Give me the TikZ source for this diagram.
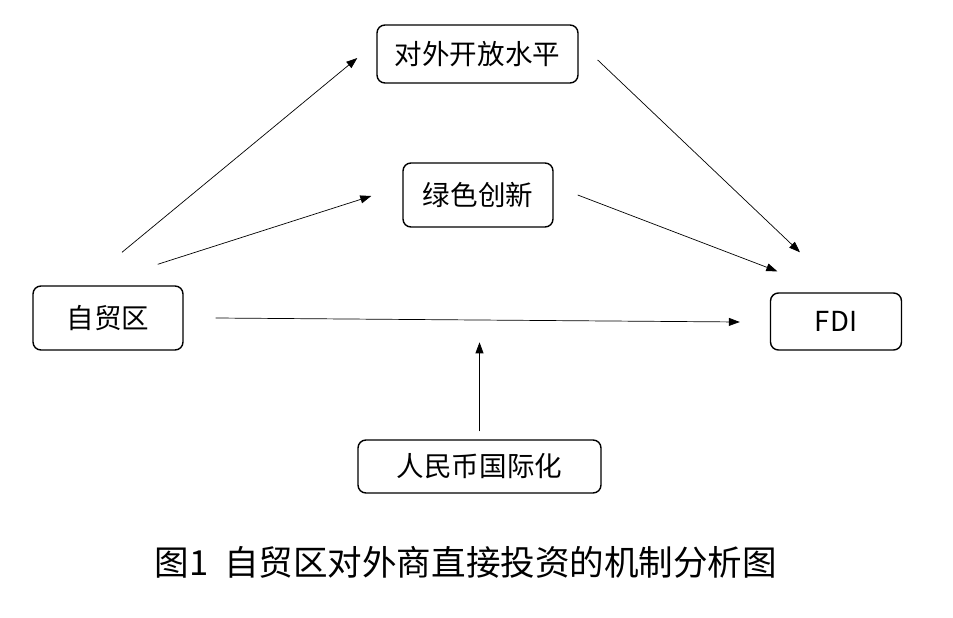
\documentclass[tikz,border=0pt]{standalone}
\usepackage{fontspec}
\setmainfont{Noto Sans CJK SC}
\usetikzlibrary{arrows.meta}
\begin{document}
\begin{tikzpicture}[x=0.03cm,y=-0.03cm,
    box/.style={draw,line width=1.2pt,rounded corners=0.24cm,inner sep=0pt,font=\fontsize{23.5pt}{28pt}\selectfont},
    flow/.style={-{Triangle[length=0.33cm,width=0.24cm]},line width=0.6pt}]
  \useasboundingbox (0,0) rectangle (953,618);
  \node[box,minimum width=6.03cm,minimum height=1.74cm] (open) at (477.5,54) {对外开放水平};
  \node[box,minimum width=4.5cm,minimum height=1.92cm] (green) at (478,195) {绿色创新};
  \node[box,minimum width=4.5cm,minimum height=1.92cm] (ftz) at (108,318) {自贸区};
  \node[box,minimum width=3.93cm,minimum height=1.71cm] (fdi) at (836,321.5) {FDI};
  \node[box,minimum width=7.29cm,minimum height=1.59cm] (rmb) at (479.5,466.5) {人民币国际化};
  \draw[flow] ([shift={(14,-33)}]ftz.north) -- ([shift={(-19,4)}]open.west);
  \draw[flow] ([shift={(-26,-21)}]ftz.north east) -- ([shift={(-31,1)}]green.west);
  \draw[flow] ([shift={(19,6)}]open.east) -- ([shift={(-36,-40)}]fdi.north);
  \draw[flow] ([shift={(24,0)}]green.east) -- ([shift={(7.5,-21)}]fdi.north west);
  \draw[flow] ([shift={(32,0)}]ftz.east) -- ([shift={(-30,0.5)}]fdi.west);
  \draw[flow] ([shift={(0,-8)}]rmb.north) -- ([shift={(0,-97)}]rmb.north);
  \node (cap) at (466,562) {\fontsize{29.5pt}{36pt}\selectfont 图1\hspace{0.45em}自贸区对外商直接投资的机制分析图};
\end{tikzpicture}
\end{document}
